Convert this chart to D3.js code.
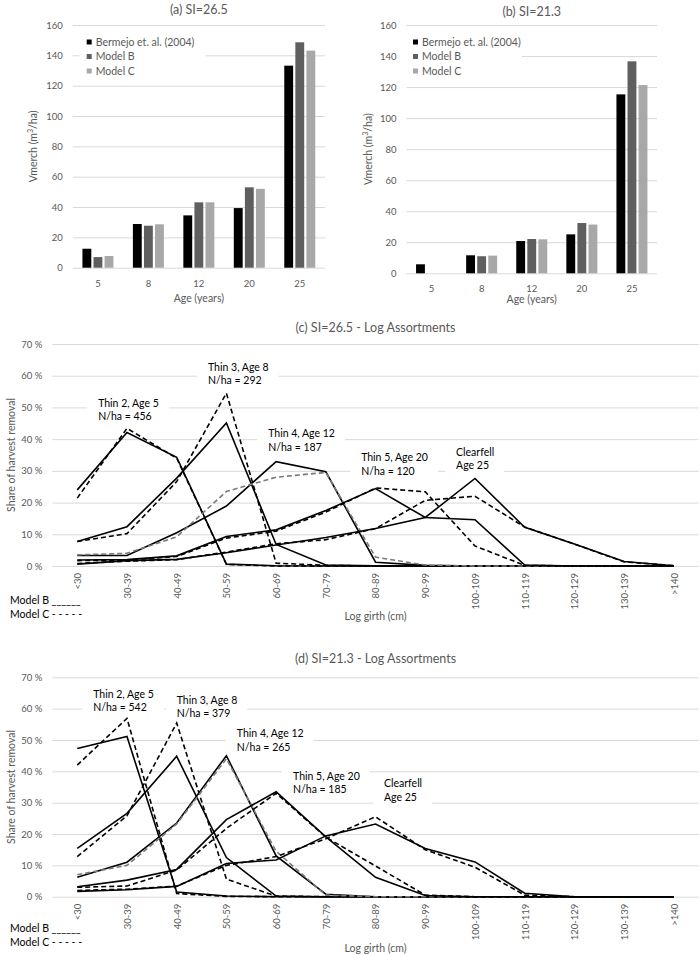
<!DOCTYPE html>
<html><head><meta charset="utf-8">
<script src="https://cdn.jsdelivr.net/npm/d3@7/dist/d3.min.js"></script>
<style>
body{margin:0;background:#fff}
svg{display:block}
text{font-family:Lato,"Open Sans",sans-serif}
</style>
</head><body>
<svg id="chart" width="700" height="955"></svg>
<script>
// ---------------- DATA ----------------
const ageCats = ['5','8','12','20','25'];
const barSeries = ['Bermejo et. al. (2004)','Model B','Model C'];
const volTicks = [0,20,40,60,80,100,120,140,160];
// (a) SI=26.5
const volA_Bermejo = [12.5, 28.8, 34.5, 39.3, 133.2];
const volA_ModelB  = [7.0, 27.7, 43.1, 53.0, 148.6];
const volA_ModelC  = [7.7, 28.6, 43.1, 52.0, 143.1];
// (b) SI=21.3
const volB_Bermejo = [5.8, 11.6, 20.8, 25.1, 115.3];
const volB_ModelB  = [0, 11.0, 22.1, 32.4, 136.6];
const volB_ModelC  = [0, 11.4, 21.9, 31.4, 121.3];

const girthCats = ['<30','30-39','40-49','50-59','60-69','70-79','80-89','90-99','100-109','110-119','120-129','130-139','>140'];
const shareTicks = [0,10,20,30,40,50,60,70];
const harvestNames = ['Thin 2','Thin 3','Thin 4','Thin 5','Clearfell'];
// (c) SI=26.5, share of harvest removal (%)
const c_B_thin2 = [24.0, 42.1, 34.3, 0.6, 0.1, 0, 0, 0, 0, 0, 0, 0, 0];
const c_C_thin2 = [21.4, 43.4, 34.0, 0.5, 0, 0, 0, 0, 0, 0, 0, 0, 0];
const c_B_thin3 = [7.7, 12.4, 27.7, 45.1, 6.8, 0.3, 0.1, 0, 0, 0, 0, 0, 0];
const c_C_thin3 = [7.7, 10.2, 26.6, 54.5, 0.9, 0.2, 0, 0, 0, 0, 0, 0, 0];
const c_B_thin4 = [3.3, 3.3, 10.5, 18.9, 32.9, 29.7, 1.2, 0.2, 0, 0, 0, 0, 0];
const c_C_thin4 = [3.5, 4.0, 9.2, 23.5, 28.0, 29.5, 2.8, 0.3, 0, 0, 0, 0, 0];
const c_B_thin5 = [1.9, 2.0, 3.2, 9.3, 11.4, 17.5, 24.4, 15.3, 14.6, 0.3, 0, 0, 0];
const c_C_thin5 = [1.7, 1.9, 3.0, 8.8, 11.0, 17.0, 24.6, 23.4, 6.3, 0.2, 0, 0, 0];
const c_B_clear = [0.6, 1.7, 2.1, 4.2, 6.6, 9.0, 11.8, 15.3, 27.6, 12.2, 6.9, 1.4, 0.1];
const c_C_clear = [0.8, 1.5, 2.0, 4.4, 7.0, 8.3, 11.8, 20.7, 22.0, 12.3, 6.9, 1.3, 0.1];
// (d) SI=21.3
const d_B_thin2 = [47.3, 51.1, 1.5, 0.2, 0, 0, 0, 0, 0, 0, 0, 0, 0];
const d_C_thin2 = [42.0, 56.9, 1.0, 0.1, 0, 0, 0, 0, 0, 0, 0, 0, 0];
const d_B_thin3 = [15.4, 26.6, 44.8, 12.5, 0.2, 0, 0, 0, 0, 0, 0, 0, 0];
const d_C_thin3 = [12.8, 25.8, 55.4, 5.6, 0.2, 0, 0, 0, 0, 0, 0, 0, 0];
const d_B_thin4 = [6.2, 11.0, 23.5, 45.0, 13.0, 0.8, 0, 0, 0, 0, 0, 0, 0];
const d_C_thin4 = [7.0, 10.0, 23.2, 44.0, 14.5, 0.5, 0, 0, 0, 0, 0, 0, 0];
const d_B_thin5 = [3.2, 5.3, 8.7, 24.6, 33.5, 19.1, 6.2, 0.4, 0, 0, 0, 0, 0];
const d_C_thin5 = [3.0, 3.4, 8.5, 21.8, 33.0, 19.0, 9.8, 0.5, 0, 0, 0, 0, 0];
const d_B_clear = [1.7, 2.2, 3.3, 10.6, 11.7, 19.4, 23.2, 15.4, 11.1, 1.1, 0, 0, 0];
const d_C_clear = [2.0, 2.4, 3.4, 10.0, 12.8, 18.5, 25.5, 15.0, 9.4, 0.5, 0, 0, 0];

const annotTextC = [['Thin 2, Age 5','N/ha = 456'],['Thin 3, Age 8','N/ha = 292'],['Thin 4, Age 12','N/ha = 187'],['Thin 5, Age 20','N/ha = 120'],['Clearfell','Age 25']];
const annotTextD = [['Thin 2, Age 5','N/ha = 542'],['Thin 3, Age 8','N/ha = 379'],['Thin 4, Age 12','N/ha = 265'],['Thin 5, Age 20','N/ha = 185'],['Clearfell','Age 25']];

// ---------------- STYLE / LAYOUT ----------------
const GRID = '#d9d9d9', TXT = '#595959';
const barColors = ['#000000', '#5f5f5f', '#a8a8a8'];
const svg = d3.select('#chart');

function barChart(o) {
  const g = svg.append('g');
  const x = d3.scaleBand().domain(ageCats).range([o.x0, o.x1]);
  const y = d3.scaleLinear().domain([0, 160]).range([o.y0, o.y1]);
  const xs = d3.scaleBand().domain(barSeries).range([-15.5, 15.5]).paddingInner(0.2);

  const ya = g.append('g').attr('transform', `translate(${o.x0},0)`)
    .call(d3.axisLeft(y).tickValues(volTicks).tickSize(-(o.x1 - o.x0)).tickPadding(10));
  ya.select('.domain').remove();
  ya.selectAll('line').attr('stroke', GRID);
  ya.selectAll('text').attr('fill', TXT).style('font-size', '9.5px').style('font-family', 'Lato,sans-serif');

  const xa = g.append('g').attr('transform', `translate(0,${o.y0})`)
    .call(d3.axisBottom(x).tickSize(0));
  xa.select('.domain').remove();
  xa.selectAll('text').attr('y', o.labOff).attr('dy', '0.35em').attr('fill', TXT)
    .style('font-size', '9.5px').style('font-family', 'Lato,sans-serif');

  // legend (white box over gridlines)
  const lg = g.append('g');
  lg.append('rect').attr('x', o.legX - 7).attr('y', o.legY - 10).attr('width', o.legW).attr('height', 46).attr('fill', '#fff');
  barSeries.forEach((s, i) => {
    lg.append('rect').attr('x', o.legX).attr('y', o.legY + i * 14.5 - 2.5).attr('width', 5).attr('height', 5).attr('fill', barColors[i]);
    lg.append('text').attr('x', o.legX + 9).attr('y', o.legY + i * 14.5).attr('dy', '0.35em')
      .attr('fill', TXT).style('font-size', '10.5px').text(s);
  });

  o.values.forEach((vals, si) => {
    g.append('g').selectAll('rect').data(vals.map((v, i) => ({cat: ageCats[i], v})))
      .join('rect')
      .attr('x', d => x(d.cat) + x.bandwidth() / 2 + xs(barSeries[si]))
      .attr('width', xs.bandwidth())
      .attr('y', d => y(d.v))
      .attr('height', d => o.y0 - y(d.v))
      .attr('fill', barColors[si]);
  });

  g.append('text').attr('x', (o.x0 + o.x1) / 2).attr('y', o.titleY).attr('text-anchor', 'middle')
    .attr('fill', TXT).style('font-size', '12.5px').text(o.title);
  g.append('text').attr('x', (o.x0 + o.x1) / 2).attr('y', o.xTitleY).attr('text-anchor', 'middle').attr('dy', '0.35em')
    .attr('fill', TXT).style('font-size', '10.5px').text('Age (years)');
  const yt = g.append('text').attr('transform', `translate(${o.yTitleX},${(o.y0 + o.y1) / 2}) rotate(-90)`)
    .attr('text-anchor', 'middle').attr('dy', '0.35em').attr('fill', TXT).style('font-size', '10.5px');
  yt.append('tspan').text('Vmerch (m');
  yt.append('tspan').attr('baseline-shift', 'super').style('font-size', '7px').text('3');
  yt.append('tspan').text('/ha)');
}

function lineChart(o) {
  const g = svg.append('g');
  const x = d3.scalePoint().domain(girthCats).range([o.x0, o.x1]).padding(0.5);
  const y = d3.scaleLinear().domain([0, 70]).range([o.y0, o.y1]);

  const ya = g.append('g').attr('transform', `translate(${o.x0},0)`)
    .call(d3.axisLeft(y).tickValues(shareTicks).tickSize(-(o.x1 - o.x0)).tickPadding(10).tickFormat(d => d + ' %'));
  ya.select('.domain').remove();
  ya.selectAll('line').attr('stroke', GRID);
  ya.selectAll('text').attr('fill', TXT).style('font-size', '9.5px').style('font-family', 'Lato,sans-serif');

  const xa = g.append('g').attr('transform', `translate(0,${o.y0})`)
    .call(d3.axisBottom(x).tickSize(0));
  xa.select('.domain').remove();
  xa.selectAll('text').attr('transform', 'rotate(-90)').attr('x', -7).attr('y', 0).attr('dy', '0.35em')
    .style('text-anchor', 'end').attr('fill', TXT).style('font-size', '9.5px').style('font-family', 'Lato,sans-serif');

  // annotation boxes
  const step = x.step();
  o.annot.forEach((a, i) => {
    const ax = x(girthCats[0]) + o.annotPos[i][0] * step;
    const ay = y(o.annotPos[i][1]);
    const ag = g.append('g');
    const r = ag.append('rect').attr('fill', '#fff');
    const t = ag.append('text').attr('fill', '#000').style('font-size', '10.5px');
    a.forEach((line, k) => t.append('tspan').attr('x', ax).attr('y', ay + k * 13.6).attr('dy', '0.35em').text(line));
    const bb = t.node().getBBox();
    r.attr('x', bb.x - 11).attr('width', bb.width + 21).attr('y', ay - 10).attr('height', 13.6 * (a.length - 1) + 23);
  });

  const line = d3.line().x((d, i) => x(girthCats[i])).y(d => y(d));
  o.series.forEach(s => {
    g.append('path').datum(s.values).attr('d', line).attr('fill', 'none')
      .attr('stroke', s.color).attr('stroke-width', 1.6)
      .attr('stroke-dasharray', s.model === 'C' ? '5,3' : null)
      .attr('stroke-linejoin', 'miter');
  });

  g.append('text').attr('x', (o.x0 + o.x1) / 2).attr('y', o.titleY).attr('text-anchor', 'middle').attr('dy', '0.35em')
    .attr('fill', TXT).style('font-size', '12.5px').text(o.title);
  g.append('text').attr('x', (o.x0 + o.x1) / 2).attr('y', o.xTitleY).attr('text-anchor', 'middle').attr('dy', '0.35em')
    .attr('fill', TXT).style('font-size', '10.5px').text('Log girth (cm)');
  g.append('text').attr('transform', `translate(${o.yTitleX},${(o.y0 + o.y1) / 2}) rotate(-90)`)
    .attr('text-anchor', 'middle').attr('dy', '0.35em').attr('fill', TXT).style('font-size', '10.5px')
    .text('Share of harvest removal');
  g.append('text').attr('x', 10).attr('y', o.legY).attr('dy', '0.35em').attr('fill', '#000').style('font-size', '10.5px').text('Model B ______');
  g.append('text').attr('x', 10).attr('y', o.legY + 14).attr('dy', '0.35em').attr('fill', '#000').style('font-size', '10.5px').text('Model C - - - - -');
}

function buildSeries(B, C) {
  const out = [];
  harvestNames.forEach((h, i) => {
    out.push({name: h, model: 'B', values: B[i], color: '#000'});
    out.push({name: h, model: 'C', values: C[i], color: h === 'Thin 4' ? '#7a7a7a' : '#000'});
  });
  return out;
}

barChart({x0: 72.7, x1: 325, y0: 267.7, y1: 25, labOff: 15.5, titleY: 13.5, xTitleY: 298.3, yTitleX: 33.3,
  legX: 86.7, legY: 42, legW: 126, title: '(a) SI=26.5', values: [volA_Bermejo, volA_ModelB, volA_ModelC]});
barChart({x0: 406.5, x1: 657, y0: 273.3, y1: 25, labOff: 15, titleY: 15.5, xTitleY: 299.5, yTitleX: 368.3,
  legX: 413, legY: 42, legW: 116, title: '(b) SI=21.3', values: [volB_Bermejo, volB_ModelB, volB_ModelC]});

lineChart({x0: 52.4, x1: 698.7, y0: 566, y1: 344, titleY: 327.3, xTitleY: 616, yTitleX: 11.7, legY: 600,
  title: '(c) SI=26.5 - Log Assortments', annot: annotTextC,
  annotPos: [[0.42, 51.4], [2.63, 62.7], [3.84, 41.8], [5.71, 34.2], [7.62, 35.9]],
  series: buildSeries([c_B_thin2, c_B_thin3, c_B_thin4, c_B_thin5, c_B_clear], [c_C_thin2, c_C_thin3, c_C_thin4, c_C_thin5, c_C_clear])});
lineChart({x0: 52.4, x1: 698.7, y0: 896.7, y1: 677.3, titleY: 658.3, xTitleY: 948.3, yTitleX: 11.7, legY: 928.5,
  title: '(d) SI=21.3 - Log Assortments', annot: annotTextD,
  annotPos: [[0.32, 64.7], [2.0, 62.8], [3.21, 52.1], [4.34, 38.5], [6.17, 36.2]],
  series: buildSeries([d_B_thin2, d_B_thin3, d_B_thin4, d_B_thin5, d_B_clear], [d_C_thin2, d_C_thin3, d_C_thin4, d_C_thin5, d_C_clear])});
</script>
</body></html>
